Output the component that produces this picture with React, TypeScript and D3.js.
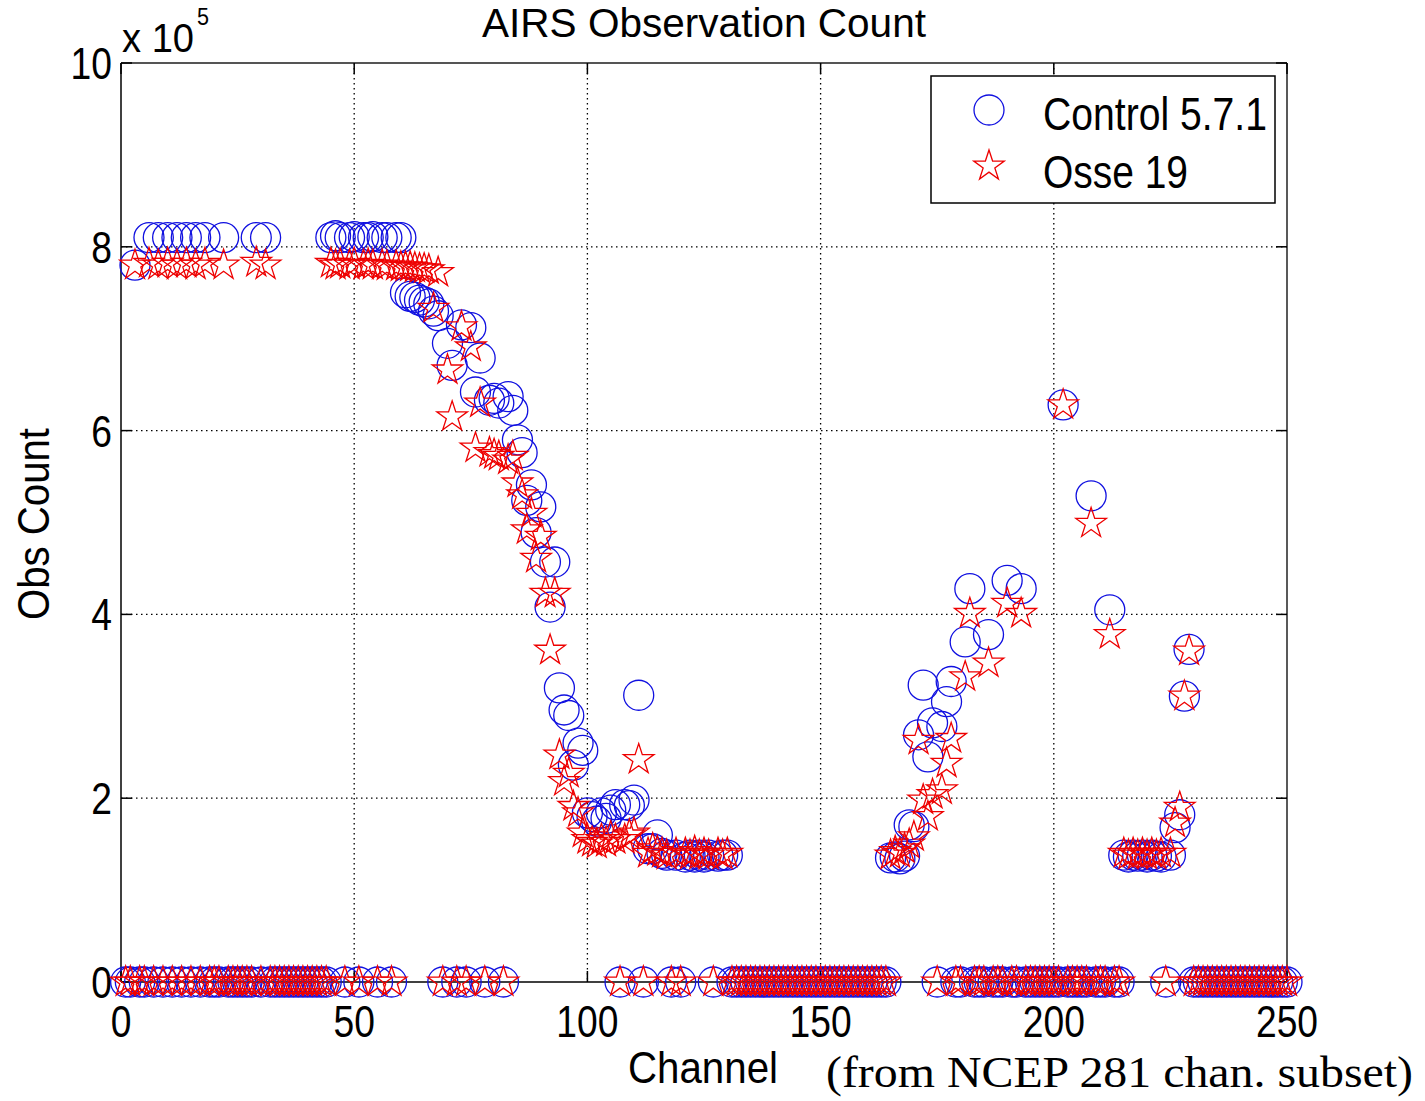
import React from 'react';
import * as d3 from 'd3';

const title = 'AIRS Observation Count';
const xLabel = 'Channel';
const yLabel = 'Obs Count';
const note = '(from NCEP 281 chan. subset)';
const seriesNames = ['Control 5.7.1', 'Osse 19'];
const xTicks = [0, 50, 100, 150, 200, 250];
const yTicks = [0, 2, 4, 6, 8, 10];

// Obs count (x 10^5) for channels 1..250
const control = [
  0, 0, 7.8, 0, 0, 8.1, 0, 8.1, 0, 8.1,
  0, 8.1, 0, 8.1, 0, 8.1, 0, 8.1, 0, 0,
  0, 8.1, 0, 0, 0, 0, 0, 0, 8.1, 0,
  8.1, 0, 0, 0, 0, 0, 0, 0, 0, 0,
  0, 0, 0, 0, 8.1, 8.12, 8.1, 0, 8.1, 8.11,
  0, 8.1, 8.1, 8.11, 0, 8.1, 8.1, 0, 8.1, 8.1,
  7.5, 7.46, 7.45, 7.42, 7.4, 7.38, 7.3, 7.25, 0, 6.95,
  6.71, 0, 7.15, 0, 7.12, 6.42, 6.79, 0, 6.33, 6.35,
  6.3, 0, 6.37, 6.22, 5.9, 5.76, 5.24, 5.41, 4.89, 5.17,
  4.57, 4.08, 4.57, 3.2, 2.96, 2.9, 2.36, 2.6, 2.52, 1.84,
  1.8, 1.75, 1.84, 1.78, 1.87, 1.93, 0, 1.93, 1.92, 1.98,
  3.12, 0, 1.45, 1.45, 1.6, 1.4, 1.38, 0, 1.38, 0,
  1.36, 1.38, 1.36, 1.38, 1.36, 1.38, 0, 1.37, 1.38, 1.38,
  0, 0, 0, 0, 0, 0, 0, 0, 0, 0,
  0, 0, 0, 0, 0, 0, 0, 0, 0, 0,
  0, 0, 0, 0, 0, 0, 0, 0, 0, 0,
  0, 0, 0, 0, 1.35, 1.36, 1.34, 1.37, 1.71, 1.69,
  2.69, 3.23, 2.45, 2.82, 0, 2.78, 3.05, 3.27, 0, 0,
  3.7, 4.28, 0, 0, 0, 3.78, 0, 0, 0, 4.37,
  0, 0, 4.28, 0, 0, 0, 0, 0, 0, 0,
  0, 6.28, 0, 0, 0, 0, 0, 5.29, 0, 0,
  0, 4.05, 0, 0, 1.38, 1.36, 1.38, 1.37, 1.38, 1.36,
  1.38, 1.37, 1.36, 0, 1.38, 1.68, 1.82, 3.11, 3.62, 0,
  0, 0, 0, 0, 0, 0, 0, 0, 0, 0,
  0, 0, 0, 0, 0, 0, 0, 0, 0, 0,
];

const osse = [
  0, 0, 7.8, 0, 0, 7.82, 0, 7.8, 0, 7.82,
  0, 7.8, 0, 7.82, 0, 7.8, 0, 7.82, 0, 0,
  0, 7.8, 0, 0, 0, 0, 0, 0, 7.83, 0,
  7.8, 0, 0, 0, 0, 0, 0, 0, 0, 0,
  0, 0, 0, 0, 7.82, 7.8, 7.81, 0, 7.8, 7.82,
  0, 7.8, 7.81, 7.8, 0, 7.8, 7.79, 0, 7.79, 7.78,
  7.78, 7.78, 7.77, 7.76, 7.76, 7.75, 7.33, 7.72, 0, 6.66,
  6.15, 0, 7.13, 0, 6.91, 5.81, 6.3, 0, 5.76, 5.74,
  5.72, 0, 5.68, 5.72, 5.43, 5.3, 4.92, 5.1, 4.61, 4.85,
  4.23, 3.61, 4.23, 2.47, 2.18, 2.27, 1.91, 1.84, 1.62, 1.55,
  1.52, 1.5, 1.55, 1.52, 1.58, 1.55, 0, 1.55, 1.6, 1.62,
  2.42, 0, 1.4, 1.45, 1.42, 1.4, 1.38, 0, 1.4, 0,
  1.4, 1.38, 1.42, 1.38, 1.4, 1.38, 0, 1.4, 1.38, 1.4,
  0, 0, 0, 0, 0, 0, 0, 0, 0, 0,
  0, 0, 0, 0, 0, 0, 0, 0, 0, 0,
  0, 0, 0, 0, 0, 0, 0, 0, 0, 0,
  0, 0, 0, 0, 1.38, 1.42, 1.4, 1.45, 1.5, 1.58,
  2.63, 1.98, 1.8, 2.04, 0, 2.09, 2.38, 2.65, 0, 0,
  3.32, 4.01, 0, 0, 0, 3.47, 0, 0, 0, 4.12,
  0, 0, 4.01, 0, 0, 0, 0, 0, 0, 0,
  0, 6.28, 0, 0, 0, 0, 0, 4.99, 0, 0,
  0, 3.78, 0, 0, 1.4, 1.38, 1.4, 1.38, 1.4, 1.38,
  1.4, 1.38, 1.4, 0, 1.4, 1.73, 1.9, 3.11, 3.6, 0,
  0, 0, 0, 0, 0, 0, 0, 0, 0, 0,
  0, 0, 0, 0, 0, 0, 0, 0, 0, 0,
];

const channels = control.map((_, i) => i + 1);

const BLUE = '#1010e0';
const RED = '#ee0000';
const SANS = '"Liberation Sans", Arial, Helvetica, sans-serif';
const SERIF = '"Liberation Serif", "Times New Roman", serif';
const DIGIT_W = 20.7;

export default function App() {
  const left = 121, right = 1287, top = 63, bottom = 982;
  const x = d3.scaleLinear().domain([0, 250]).range([left, right]);
  const y = d3.scaleLinear().domain([0, 10]).range([bottom, top]);
  const starPath = d3.symbol().type(d3.symbolStar).size(290)() as string;
  const tickLen = 11;

  return (
    <svg width={1425} height={1101} style={{ position: 'absolute', left: 0, top: 0, background: '#fff' }}>
      <rect x={0} y={0} width={1425} height={1101} fill="#fff" />
      {/* grid */}
      {xTicks.filter((t) => t > 0 && t < 250).map((t) => (
        <line key={'gx' + t} x1={x(t)} x2={x(t)} y1={top} y2={bottom} stroke="#000" strokeWidth={1.3} strokeDasharray="1.5,3.5" />
      ))}
      {yTicks.filter((t) => t > 0 && t < 10).map((t) => (
        <line key={'gy' + t} x1={left} x2={right} y1={y(t)} y2={y(t)} stroke="#000" strokeWidth={1.3} strokeDasharray="1.5,3.5" />
      ))}
      {/* axes box */}
      <line x1={left} x2={right} y1={top} y2={top} stroke="#555" strokeWidth={2} />
      <line x1={right} x2={right} y1={top} y2={bottom} stroke="#222" strokeWidth={1.5} />
      <line x1={left} x2={left} y1={top} y2={bottom} stroke="#000" strokeWidth={1.5} />
      <line x1={left} x2={right} y1={bottom} y2={bottom} stroke="#000" strokeWidth={1.5} />
      {/* ticks */}
      {xTicks.map((t) => (
        <g key={'tx' + t}>
          <line x1={x(t)} x2={x(t)} y1={bottom} y2={bottom - tickLen} stroke="#000" strokeWidth={1.5} />
          <line x1={x(t)} x2={x(t)} y1={top} y2={top + tickLen} stroke="#000" strokeWidth={1.5} />
          <text x={x(t)} y={1037} fontFamily={SANS} fontSize={44} textAnchor="middle"
            textLength={String(t).length * DIGIT_W} lengthAdjust="spacingAndGlyphs">{t}</text>
        </g>
      ))}
      {yTicks.map((t) => (
        <g key={'ty' + t}>
          <line x1={left} x2={left + tickLen} y1={y(t)} y2={y(t)} stroke="#000" strokeWidth={1.5} />
          <line x1={right} x2={right - tickLen} y1={y(t)} y2={y(t)} stroke="#000" strokeWidth={1.5} />
          <text x={112} y={y(t) + 16} fontFamily={SANS} fontSize={44} textAnchor="end"
            textLength={String(t).length * DIGIT_W} lengthAdjust="spacingAndGlyphs">{t}</text>
        </g>
      ))}
      {/* exponent */}
      <text x={122} y={52} fontFamily={SANS} fontSize={40} textLength={72} lengthAdjust="spacingAndGlyphs">x 10</text>
      <text x={197} y={25} fontFamily={SANS} fontSize={24} textLength={12} lengthAdjust="spacingAndGlyphs">5</text>
      {/* markers */}
      <g>
        {channels.map((c, i) => (
          <circle key={'c' + c} cx={x(c)} cy={y(control[i])} r={15} fill="none" stroke={BLUE} strokeWidth={1.3} />
        ))}
      </g>
      <g>
        {channels.map((c, i) => (
          <path key={'s' + c} d={starPath} transform={`translate(${x(c)},${y(osse[i])})`} fill="none" stroke={RED} strokeWidth={1.3} />
        ))}
      </g>
      {/* title & labels */}
      <text x={704} y={37} fontFamily={SANS} fontSize={40} textAnchor="middle" textLength={444} lengthAdjust="spacingAndGlyphs">{title}</text>
      <text x={703} y={1083} fontFamily={SANS} fontSize={44} textAnchor="middle" textLength={150} lengthAdjust="spacingAndGlyphs">{xLabel}</text>
      <text transform="translate(49,524) rotate(-90)" fontFamily={SANS} fontSize={44} textAnchor="middle" textLength={192} lengthAdjust="spacingAndGlyphs">{yLabel}</text>
      <text x={826} y={1087} fontFamily={SERIF} fontSize={44} textLength={587} lengthAdjust="spacingAndGlyphs">{note}</text>
      {/* legend */}
      <rect x={931} y={76} width={344} height={127} fill="#fff" stroke="#000" strokeWidth={1.5} />
      <circle cx={989} cy={110} r={15} fill="none" stroke={BLUE} strokeWidth={1.3} />
      <path d={starPath} transform="translate(989,166)" fill="none" stroke={RED} strokeWidth={1.3} />
      <text x={1043} y={130} fontFamily={SANS} fontSize={46} textLength={224} lengthAdjust="spacingAndGlyphs">{seriesNames[0]}</text>
      <text x={1043} y={188} fontFamily={SANS} fontSize={46} textLength={145} lengthAdjust="spacingAndGlyphs">{seriesNames[1]}</text>
    </svg>
  );
}
